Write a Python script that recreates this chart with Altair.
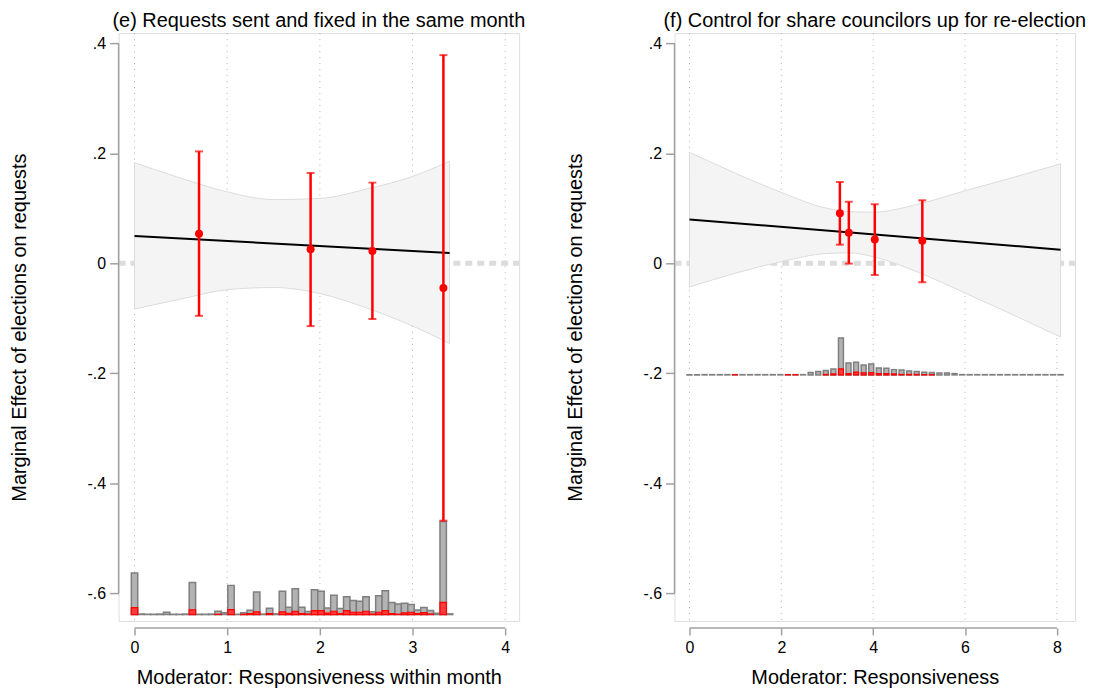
import altair as alt
import pandas as pd
import numpy as np

FONT = "Liberation Sans"

# ---------------- shared y axis ----------------
y_title = "Marginal Effect of elections on requests"
y_ticks = [-0.6, -0.4, -0.2, 0.0, 0.2, 0.4]
y_domain = [-0.6507, 0.4187]

# ---------------- panel (e) ----------------
e_title = "(e) Requests sent and fixed in the same month"
e_xtitle = "Moderator: Responsiveness within month"
e_xticks = [0, 1, 2, 3, 4]
e_xdomain = [-0.172, 4.150]
e_line_x = [0.0, 3.40]
e_line_y = [0.0497, 0.0188]
e_band_x = [0.0, 0.5, 1.0, 1.5, 2.0, 2.5, 3.0, 3.4]
e_band_hi = [0.183, 0.155, 0.130, 0.116, 0.118, 0.135, 0.158, 0.186]
e_band_lo = [-0.083, -0.065, -0.048, -0.044, -0.055, -0.081, -0.114, -0.146]
e_pt_x = [0.696, 1.90, 2.567, 3.333]
e_pt_y = [0.0538, 0.0254, 0.0223, -0.0448]
e_pt_lo = [-0.0955, -0.1142, -0.1015, -0.4682]
e_pt_hi = [0.2036, 0.1644, 0.1468, 0.3788]
e_hist_base = -0.639
e_hist_start = 0.0
e_hist_binw = 0.06939
e_hist_all = [0.0756, 0.0009, 0.0005, 0.0005, 0.0009, 0.0042, 0.0005, 0.0005, 0.0009, 0.0585,
              0.0005, 0.0005, 0.0009, 0.0060, 0.0031, 0.0531, 0.0005, 0.0031, 0.0078, 0.0411,
              0.0009, 0.0114, 0.0013, 0.0422, 0.0132, 0.0471, 0.0132, 0.0054, 0.0453, 0.0422,
              0.0121, 0.0350, 0.0109, 0.0326, 0.0254, 0.0241, 0.0326, 0.0049, 0.0344, 0.0435,
              0.0218, 0.0194, 0.0205, 0.0181, 0.0085, 0.0127, 0.0073, 0.0024, 0.1691, 0.0013]
e_hist_red = [0.0127, 0, 0, 0, 0, 0, 0, 0, 0, 0.0085,
              0, 0, 0, 0.0005, 0, 0.0091, 0, 0.0005, 0.0018, 0.0049,
              0, 0.0018, 0, 0.0049, 0.0024, 0.0060, 0.0018, 0.0009, 0.0073, 0.0073,
              0.0027, 0.0060, 0.0018, 0.0073, 0.0042, 0.0042, 0.0060, 0.0009, 0.0042, 0.0073,
              0.0018, 0.0005, 0.0031, 0.0042, 0.0018, 0.0036, 0.0009, 0, 0.0223, 0]

# ---------------- panel (f) ----------------
f_title = "(f) Control for share councilors up for re-election"
f_xtitle = "Moderator: Responsiveness"
f_xticks = [0, 2, 4, 6, 8]
f_xdomain = [-0.325, 8.395]
f_line_x = [0.0, 8.08]
f_line_y = [0.0798, 0.0248]
f_band_x = [0.0, 1.0, 2.0, 3.0, 3.5, 4.0, 5.0, 6.0, 7.0, 8.08]
f_band_hi = [0.202, 0.164, 0.129, 0.100, 0.094, 0.093, 0.108, 0.132, 0.155, 0.181]
f_band_lo = [-0.043, -0.018, 0.003, 0.018, 0.019, 0.012, -0.017, -0.054, -0.092, -0.134]
f_pt_x = [3.275, 3.47, 4.035, 5.07]
f_pt_y = [0.0912, 0.0556, 0.0435, 0.0411]
f_pt_lo = [0.0339, -0.0005, -0.0212, -0.0344]
f_pt_hi = [0.1480, 0.1120, 0.1075, 0.1147]
f_hist_base = -0.203
f_hist_start = 0.0
f_hist_binw = 0.1649
f_hist_all = [0.0005] * 16 + [0.0042, 0.0060, 0.0078, 0.0109, 0.0671, 0.0218, 0.0230, 0.0181,
                              0.0199, 0.0127, 0.0121, 0.0096, 0.0091, 0.0073, 0.0060, 0.0049,
                              0.0042, 0.0036, 0.0036, 0.0024] + [0.0005] * 14
f_hist_red = [0, 0, 0, 0, 0, 0, 0.0003, 0, 0, 0, 0, 0, 0, 0.0003, 0.0003, 0,
              0, 0, 0.0009, 0.0018, 0.0109, 0.0024, 0.0049, 0.0036, 0.0042, 0.0024,
              0.0024, 0.0018, 0.0009, 0.0009, 0.0009, 0.0005, 0.0005, 0, 0, 0] + [0] * 14

W, H = 402, 590
AXIS_GRAY = "#a0a0a0"


def make_panel(title, xtitle, xticks, xdomain, line_x, line_y, band_x, band_hi, band_lo,
               pt_x, pt_y, pt_lo, pt_hi, h_base, h_start, h_binw, h_all, h_red, bar_frac):
    xs = alt.Scale(domain=xdomain, nice=False, zero=False)
    ys = alt.Scale(domain=y_domain, nice=False, zero=False)
    xaxis = alt.Axis(title=xtitle, values=xticks, domain=False, grid=False, offset=7,
                     tickSize=7, tickColor=AXIS_GRAY, tickWidth=1.5, labelPadding=5,
                     labelFontSize=16, labelFont=FONT, labelColor="black",
                     titleFontSize=20, titleFont=FONT, titleFontWeight="normal",
                     titleColor="black", titlePadding=12, format="d")
    yaxis = alt.Axis(title=y_title, values=y_ticks, domain=False, grid=False,
                     tickSize=9, tickColor=AXIS_GRAY, tickWidth=1.5, labelPadding=4,
                     labelFontSize=16, labelFont=FONT, labelColor="black",
                     labelExpr="datum.value == 0 ? '0' : (datum.value < 0 ? '-' : '') + replace(format(abs(datum.value), '.1f'), '0.', '.')",
                     titleFontSize=20, titleFont=FONT, titleFontWeight="normal",
                     titleColor="black", titlePadding=58)

    def X(f):
        return alt.X(f, type="quantitative", scale=xs, axis=xaxis)

    def Y(f):
        return alt.Y(f, type="quantitative", scale=ys, axis=yaxis)

    # vertical dotted grid at x ticks
    grid = alt.Chart(pd.DataFrame({"x": xticks})).mark_rule(
        color="#b4b4b4", strokeWidth=1, strokeDash=[1, 5]
    ).encode(x=X("x"), y=alt.value(0), y2=alt.value(H))

    zero = alt.Chart(pd.DataFrame({"y": [0.0]})).mark_rule(
        color="#dcdcdc", strokeWidth=5, strokeDash=[7, 5]
    ).encode(y=Y("y"), x=alt.value(0), x2=alt.value(W))

    band_df = pd.DataFrame({"x": band_x, "hi": band_hi, "lo": band_lo})
    band = alt.Chart(band_df).mark_area(
        color="#f4f4f4", stroke="#dcdcdc", strokeWidth=1, interpolate="monotone", opacity=1
    ).encode(x=X("x"), y=Y("hi"), y2="lo")

    line = alt.Chart(pd.DataFrame({"x": line_x, "y": line_y})).mark_line(
        color="black", strokeWidth=2
    ).encode(x=X("x"), y=Y("y"))

    n = len(h_all)
    centers = h_start + h_binw * np.arange(n)
    half = h_binw * bar_frac / 2
    hist_df = pd.DataFrame({
        "x1": centers - half, "x2": centers + half,
        "y1": [h_base] * n, "all": [h_base + v for v in h_all],
        "red": [h_base + v for v in h_red], "has_red": [v > 0 for v in h_red],
    })
    hist_all = alt.Chart(hist_df).mark_rect(
        fill="#b3b3b3", stroke="#7f7f7f", strokeWidth=1.5
    ).encode(x=X("x1"), x2="x2", y=Y("y1"), y2="all")
    hist_red = alt.Chart(hist_df[hist_df["has_red"]]).mark_rect(
        fill="#ff3b3b", stroke="#ff0000", strokeWidth=1.2
    ).encode(x=X("x1"), x2="x2", y=Y("y1"), y2="red")

    pts_df = pd.DataFrame({"x": pt_x, "y": pt_y, "lo": pt_lo, "hi": pt_hi})
    ebar = alt.Chart(pts_df).mark_rule(color="#ff0000", strokeWidth=2.5).encode(
        x=X("x"), y=Y("lo"), y2="hi")
    caps_df = pd.DataFrame({"x": list(pt_x) * 2, "y": list(pt_lo) + list(pt_hi)})
    caps = alt.Chart(caps_df).mark_tick(
        color="#ff0000", orient="horizontal", size=8, thickness=2
    ).encode(x=X("x"), y=Y("y"))
    pts = alt.Chart(pts_df).mark_point(
        filled=True, color="#ff0000", size=64, shape="circle", opacity=1
    ).encode(x=X("x"), y=Y("y"))

    yline = alt.Chart(pd.DataFrame({"lo": [y_ticks[0]], "hi": [y_ticks[-1]]})).mark_rule(
        color=AXIS_GRAY, strokeWidth=1.5
    ).encode(x=alt.value(0), y=Y("lo"), y2="hi")
    xline = alt.Chart(pd.DataFrame({"lo": [xticks[0]], "hi": [xticks[-1]]})).mark_rule(
        color=AXIS_GRAY, strokeWidth=1.5
    ).encode(y=alt.value(H + 7), x=X("lo"), x2="hi")

    return alt.layer(grid, zero, band, line, hist_all, hist_red, ebar, caps, pts, yline, xline).properties(
        width=W, height=H,
        title=alt.TitleParams(text=title, fontSize=20, font=FONT, fontWeight="normal",
                              color="black", anchor="middle", offset=-18, baseline="bottom"),
    )


pe = make_panel(e_title, e_xtitle, e_xticks, e_xdomain, e_line_x, e_line_y, e_band_x,
                e_band_hi, e_band_lo, e_pt_x, e_pt_y, e_pt_lo, e_pt_hi, e_hist_base,
                e_hist_start, e_hist_binw, e_hist_all, e_hist_red, 1.0)
pf = make_panel(f_title, f_xtitle, f_xticks, f_xdomain, f_line_x, f_line_y, f_band_x,
                f_band_hi, f_band_lo, f_pt_x, f_pt_y, f_pt_lo, f_pt_hi, f_hist_base,
                f_hist_start, f_hist_binw, f_hist_all, f_hist_red, 0.65)

chart = alt.hconcat(pe, pf, spacing=38).properties(
    padding={"left": 0, "top": 1, "right": 0, "bottom": 0}
).configure_view(stroke=None).configure(background="white")

chart.save("out.html", embed_options={"renderer": "svg", "actions": False})
